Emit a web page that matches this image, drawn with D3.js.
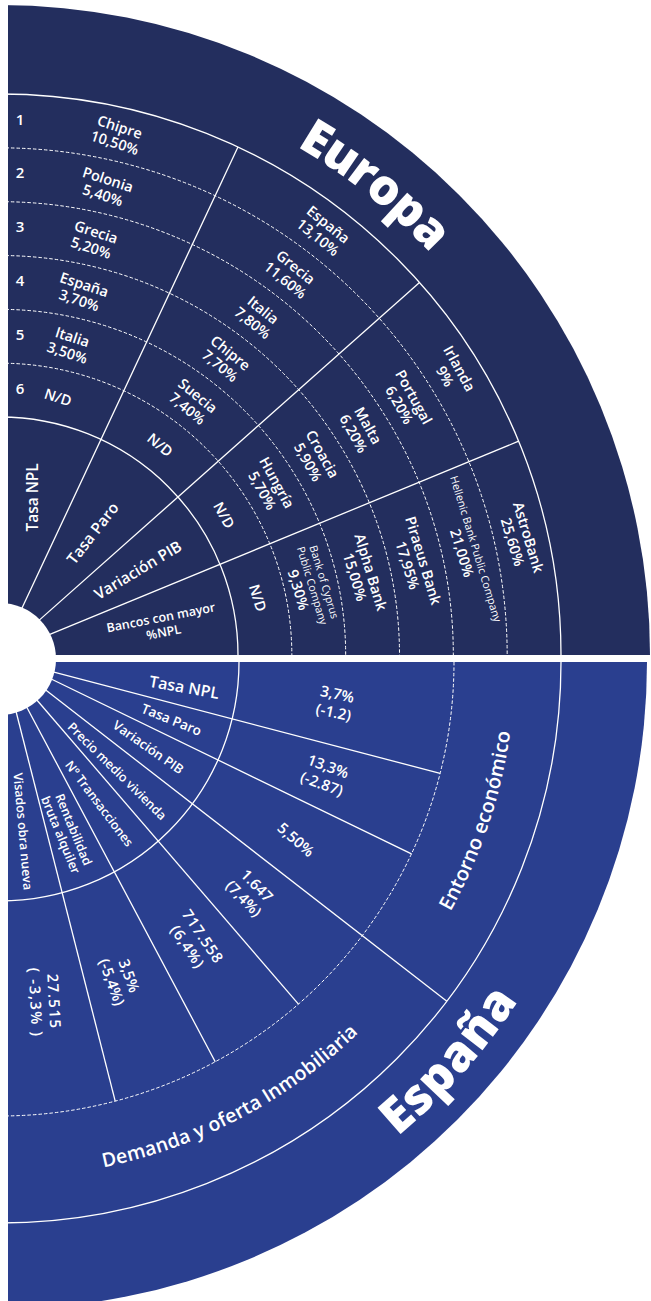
<!DOCTYPE html>
<html>
<head>
<meta charset="utf-8">
<script src="https://cdn.jsdelivr.net/npm/d3@7"></script>
<style>
html,body{margin:0;padding:0;background:#fff;}
svg{display:block;font-family:"Open Sans","Noto Sans",sans-serif;}
</style>
</head>
<body>
<svg id="chart" width="651" height="1301"></svg>
<script>
// ------------------------- DATA -------------------------
const ranks = [1, 2, 3, 4, 5, 6];
const europeTitle = "Europa";
const europeCategories = ["Tasa NPL", "Tasa Paro", "Variación PIB", "Bancos con mayor|%NPL"];
const nplCountries  = ["Chipre", "Polonia", "Grecia", "España", "Italia", "N/D"];
const nplValues     = ["10,50%", "5,40%", "5,20%", "3,70%", "3,50%", ""];
const paroCountries = ["España", "Grecia", "Italia", "Chipre", "Suecia", "N/D"];
const paroValues    = ["13,10%", "11,60%", "7,80%", "7,70%", "7,40%", ""];
const pibCountries  = ["Irlanda", "Portugal", "Malta", "Croacia", "Hungría", "N/D"];
const pibValues     = ["9%", "6,20%", "6,20%", "5,90%", "5,70%", ""];
const banks         = ["AstroBank", "Hellenic Bank Public Company", "Piraeus Bank", "Alpha Bank", "Bank of Cyprus|Public Company", "N/D"];
const bankValues    = ["25,60%", "21,00%", "17,95%", "15,00%", "9,30%", ""];

const spainTitle = "España";
const spainCategories = ["Tasa NPL", "Tasa Paro", "Variación PIB", "Precio medio vivienda", "Nº Transacciones", "Rentabilidad|bruta alquiler", "Visados obra nueva"];
const spainValues  = ["3,7%", "13,3%", "5,50%", "1.647", "717.558", "3,5%", "27.515"];
const spainChanges = ["(-1.2)", "(-2.87)", "", "(7,4%)", "(6,4%)", "(-5,4%)", "( -3,3% )"];
const spainGroups  = ["Entorno económico", "Demanda y oferta Inmobiliaria"];

// ------------------------- LAYOUT -------------------------
const W = 651, H = 1301;
const TOP_COLOR = "#232e5e", BOT_COLOR = "#2a3f8f";
const topC = {x: 0, y: 655}, botC = {x: 0, y: 662}, holeC = {x: 0, y: 659};
const R_TOP = 650, R_BOT = 647, R_HOLE = 56, R_IN = 238, R_IN_BOT = 239, R_ROWS = 561, R_DASH_BOT = 454;
const LEFT_MARGIN = 8;
const LABEL_WEIGHT = 600;

const topSectorBounds = [0, 25.1, 48.4, 67.6, 90];
const topColAngle = [12.7, 37.3, 58, 77.5];
const topColRot = [18, 39, 61, 73];
const topCatLayout = [
  {a: 11.8, r: 161, rot: -90, size: 15.5},
  {a: 37.3, r: 153, rot: -52, size: 15.5},
  {a: 58.4, r: 162, rot: -31, size: 15.5},
  {a: 79.5, r: 165, rot: -11, size: 12.5}
];
const rankX = 20;

// bottom (angles measured below horizontal, degrees)
const botDivInner = [10.3, 17.8, 31.1, 45.7, 59.2, 71.9];
const botDivOuter = [14.2, 25.0, 37.2, 48.9, 61.7, 75.3];
const groupBreak = 2; // divider index that reaches the outer solid arc
const botCatLayout = [
  {a: 7.8,  r: 186, rot: 10, size: 16},
  {a: 18.6, r: 181, rot: 22, size: 13.5},
  {a: 29.9, r: 171, rot: 35, size: 13},
  {a: 43,   r: 160, rot: 44.5, size: 12.5},
  {a: 55,   r: 173, rot: 53, size: 12.5},
  {a: 68.5, r: 183, rot: 67.5, size: 12.5},
  {a: 82.3, r: 171, rot: 85, size: 12.5}
];
const botValLayout = [
  {a: 7,    r: 338, rot: 12},
  {a: 19.2, r: 344, rot: 20},
  {a: 31,   r: 345, rot: 41},
  {a: 42.6, r: 340, rot: 46},
  {a: 55.1, r: 341, rot: 56, ls: 0.8},
  {a: 69.2, r: 339, rot: 70},
  {a: 82.5, r: 343, rot: 87, ls: 1.5}
];
const groupLayout = [{a: 18.4, r: 508, size: 20}, {a: 62.2, r: 509, size: 19.5}];
const europeTitleLayout = {a: 38.6, r: 606, size: 49};
const spainTitleLayout  = {a: 41.6, r: 602, size: 49};

// ------------------------- HELPERS -------------------------
const svg = d3.select("#chart");
const rad = d3.scaleLinear().domain([0, 180]).range([0, Math.PI]);       // d3 arc angle (0 = up, clockwise)
const botAngle = d3.scaleLinear().domain([0, 90]).range([90, 180]);       // below-horizontal -> d3 angle
const rowBand = d3.scaleBand().domain(ranks).range([R_ROWS, R_IN]);

function pt(c, aDeg, r) {
  const [x, y] = d3.pointRadial(rad(aDeg), r);
  return [c.x + x, c.y + y];
}
function arcPath(c, r, a0, a1, ccw) {
  const p = d3.path();
  p.arc(c.x, c.y, r, rad(a0) - Math.PI / 2, rad(a1) - Math.PI / 2, !!ccw);
  return p.toString();
}
function block(g, x, y, rot, lines) {
  const t = g.append("g").attr("transform", `translate(${x},${y}) rotate(${rot})`);
  const total = d3.sum(lines, l => l.lh);
  let yy = -total / 2;
  lines.forEach(l => {
    t.append("text")
      .attr("x", 0).attr("y", yy + l.lh / 2).attr("dy", "0.35em")
      .attr("text-anchor", "middle")
      .attr("font-size", l.size)
      .attr("font-weight", l.weight || LABEL_WEIGHT)
      .attr("letter-spacing", l.ls || null)
      .attr("fill", "#fff")
      .text(l.text);
    yy += l.lh;
  });
}

// ------------------------- BACKGROUNDS -------------------------
svg.append("path")
  .attr("transform", `translate(${topC.x},${topC.y})`)
  .attr("d", d3.arc()({innerRadius: 0, outerRadius: R_TOP, startAngle: rad(0), endAngle: rad(90)}))
  .attr("fill", TOP_COLOR);
svg.append("path")
  .attr("transform", `translate(${botC.x},${botC.y})`)
  .attr("d", d3.arc()({innerRadius: 0, outerRadius: R_BOT, startAngle: rad(90), endAngle: rad(180)}))
  .attr("fill", BOT_COLOR);

const lineG = svg.append("g").attr("fill", "none").attr("stroke", "#fff");

// ------------------------- EUROPE (top) -------------------------
[R_IN, R_ROWS].forEach(r => {
  lineG.append("path").attr("d", arcPath(topC, r, 0, 90)).attr("stroke-width", 1.3);
});
ranks.slice(0, 5).forEach(d => {
  lineG.append("path").attr("d", arcPath(topC, rowBand(d), 0, 90))
    .attr("stroke-width", 1).attr("stroke-dasharray", "3.5,2");
});
topSectorBounds.slice(1, -1).forEach(a => {
  const [x0, y0] = pt(topC, a, R_HOLE - 8), [x1, y1] = pt(topC, a, R_ROWS);
  lineG.append("line").attr("x1", x0).attr("y1", y0).attr("x2", x1).attr("y2", y1).attr("stroke-width", 1.3);
});

const txtG = svg.append("g");
europeCategories.forEach((c, i) => {
  const L = topCatLayout[i];
  const [x, y] = pt(topC, L.a, L.r);
  block(txtG, x, y, L.rot, c.split("|").map(s => ({text: s, size: L.size, lh: L.size * 1.2})));
});
ranks.forEach(d => {
  const rm = rowBand(d) + rowBand.bandwidth() / 2;
  txtG.append("text")
    .attr("x", rankX).attr("y", topC.y - Math.sqrt(rm * rm - rankX * rankX) - 2)
    .attr("dy", "0.35em").attr("text-anchor", "middle")
    .attr("font-size", 15).attr("font-weight", 600).attr("fill", "#fff").text(d);
});
const topColumns = [
  [nplCountries, nplValues],
  [paroCountries, paroValues],
  [pibCountries, pibValues],
  [banks, bankValues]
];
topColumns.forEach(([names, vals], ci) => {
  ranks.forEach((d, ri) => {
    const rm = rowBand(d) + rowBand.bandwidth() / 2;
    const [x, y] = pt(topC, topColAngle[ci], rm - 1);
    const nameParts = names[ri].split("|");
    const small = names[ri].length > 14;
    const lines = nameParts.map(s => ({text: s, size: small ? 10.8 : 14.5, weight: small ? 500 : null, lh: small ? 12.5 : 16.5}));
    if (vals[ri]) lines.push({text: vals[ri], size: 14.5, lh: 16.5});
    block(txtG, x, y, topColRot[ci], lines);
  });
});

// ------------------------- SPAIN (bottom) -------------------------
lineG.append("path").attr("d", arcPath(botC, R_IN_BOT, 90, 180)).attr("stroke-width", 1.3);
lineG.append("path").attr("d", arcPath(botC, R_ROWS, 90, 180)).attr("stroke-width", 1.3);
lineG.append("path").attr("d", arcPath(botC, R_DASH_BOT, 90, 180))
  .attr("stroke-width", 1).attr("stroke-dasharray", "3.5,2");
botDivInner.forEach((a0, i) => {
  const [x0, y0] = pt(botC, botAngle(a0), R_HOLE - 6);
  const [x1, y1] = pt(botC, botAngle(botDivOuter[i]), i === groupBreak ? R_ROWS : R_DASH_BOT);
  lineG.append("line").attr("x1", x0).attr("y1", y0).attr("x2", x1).attr("y2", y1).attr("stroke-width", 1.3);
});

spainCategories.forEach((c, i) => {
  const L = botCatLayout[i];
  const [x, y] = pt(botC, botAngle(L.a), L.r);
  block(txtG, x, y, L.rot, c.split("|").map(s => ({text: s, size: L.size, lh: L.size * 1.12})));
});
spainValues.forEach((v, i) => {
  const L = botValLayout[i];
  const [x, y] = pt(botC, botAngle(L.a), L.r);
  const lines = [{text: v, size: 15, lh: 18.5, ls: L.ls}];
  if (spainChanges[i]) lines.push({text: spainChanges[i], size: 15, lh: 18.5, ls: L.ls});
  block(txtG, x, y, L.rot, lines);
});

const defs = svg.append("defs");
function curvedText(id, c, aMid, r, span, ccw, text, size, weight) {
  const a0 = ccw ? aMid + span : aMid - span;
  const a1 = ccw ? aMid - span : aMid + span;
  defs.append("path").attr("id", id).attr("d", arcPath(c, r, a0, a1, ccw));
  txtG.append("text")
    .attr("font-size", size).attr("font-weight", weight).attr("fill", "#fff")
    .attr("dy", "0.35em")
    .append("textPath").attr("href", "#" + id)
    .attr("startOffset", "50%").attr("text-anchor", "middle")
    .text(text);
}
spainGroups.forEach((gname, i) => {
  const L = groupLayout[i];
  curvedText("grp" + i, botC, botAngle(L.a), L.r, 40, true, gname, L.size, 600);
});
curvedText("titleEu", topC, europeTitleLayout.a, europeTitleLayout.r, 40, false, europeTitle, europeTitleLayout.size, 800);
curvedText("titleEs", botC, botAngle(spainTitleLayout.a), spainTitleLayout.r, 40, true, spainTitle, spainTitleLayout.size, 800);

svg.append("circle").attr("cx", holeC.x).attr("cy", holeC.y).attr("r", R_HOLE).attr("fill", "#fff");
svg.append("rect").attr("x", 0).attr("y", 0).attr("width", LEFT_MARGIN).attr("height", H).attr("fill", "#fff");
</script>
</body>
</html>
